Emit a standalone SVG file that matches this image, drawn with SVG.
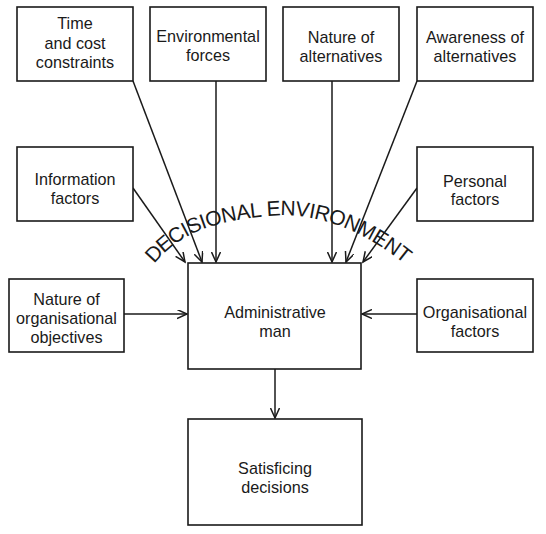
<svg xmlns="http://www.w3.org/2000/svg" width="546" height="534" viewBox="0 0 546 534">
<style>
.box{fill:#fff;stroke:#1a1a1a;stroke-width:1.6}
.t{font-family:"Liberation Sans",Arial,sans-serif;font-size:16.2px;fill:#1a1a1a;text-anchor:middle}
.c{stroke:#1a1a1a;stroke-width:1.5;fill:none;marker-end:url(#ah)}
.arc{font-family:"Liberation Sans",Arial,sans-serif;font-size:21px;fill:#1a1a1a;dominant-baseline:central}
</style>
<defs>
<marker id="ah" markerUnits="userSpaceOnUse" markerWidth="12" markerHeight="10" refX="10" refY="4.5" orient="auto">
<path d="M0,0 L10,4.5 L0,9" fill="none" stroke="#1a1a1a" stroke-width="1.5"/>
</marker>
<path id="arcpath" d="M147,260 C170,232 200,214 268,208 C320,203 370,225 411,259"/>
</defs>
<rect width="546" height="534" fill="#fff"/>
<g id="connectors">
<line class="c" x1="133" y1="81" x2="202" y2="262"/>
<line class="c" x1="216" y1="81" x2="216" y2="262"/>
<line class="c" x1="332" y1="81" x2="332" y2="262"/>
<line class="c" x1="417" y1="81" x2="346" y2="262"/>
<line class="c" x1="133" y1="188" x2="185" y2="262"/>
<line class="c" x1="417" y1="188" x2="363" y2="262"/>
<line class="c" x1="124" y1="314" x2="187" y2="314"/>
<line class="c" x1="417" y1="314" x2="362" y2="314"/>
<line class="c" x1="275" y1="369" x2="275" y2="418"/>
</g>
<g id="label-decisional-environment">
<text class="arc"><textPath href="#arcpath" startOffset="50%" text-anchor="middle">DECISIONAL ENVIRONMENT</textPath></text>
</g>
<g id="time-cost">
<rect class="box" x="17" y="7" width="116" height="74"/>
<text class="t" x="75" y="29">Time</text>
<text class="t" x="75" y="49">and cost</text>
<text class="t" x="75" y="68">constraints</text>
</g>
<g id="environmental-forces">
<rect class="box" x="150" y="7" width="116" height="74"/>
<text class="t" x="208" y="42">Environmental</text>
<text class="t" x="208" y="61">forces</text>
</g>
<g id="nature-alternatives">
<rect class="box" x="283" y="7" width="116" height="74"/>
<text class="t" x="341" y="43">Nature of</text>
<text class="t" x="341" y="62">alternatives</text>
</g>
<g id="awareness-alternatives">
<rect class="box" x="417" y="7" width="116" height="74"/>
<text class="t" x="475" y="43">Awareness of</text>
<text class="t" x="475" y="62">alternatives</text>
</g>
<g id="information-factors">
<rect class="box" x="17" y="147" width="116" height="74"/>
<text class="t" x="75" y="185">Information</text>
<text class="t" x="75" y="204">factors</text>
</g>
<g id="personal-factors">
<rect class="box" x="417" y="147" width="116" height="74"/>
<text class="t" x="475" y="187">Personal</text>
<text class="t" x="475" y="205">factors</text>
</g>
<g id="nature-org-objectives">
<rect class="box" x="9" y="279" width="115" height="73"/>
<text class="t" x="66.5" y="305">Nature of</text>
<text class="t" x="66.5" y="324">organisational</text>
<text class="t" x="66.5" y="343">objectives</text>
</g>
<g id="organisational-factors">
<rect class="box" x="417" y="279" width="116" height="73"/>
<text class="t" x="475" y="318">Organisational</text>
<text class="t" x="475" y="337">factors</text>
</g>
<g id="administrative-man">
<rect class="box" x="188" y="263" width="173" height="106"/>
<text class="t" x="275" y="318">Administrative</text>
<text class="t" x="275" y="337">man</text>
</g>
<g id="satisficing-decisions">
<rect class="box" x="188" y="419" width="174" height="106"/>
<text class="t" x="275" y="474">Satisficing</text>
<text class="t" x="275" y="493">decisions</text>
</g>
</svg>
